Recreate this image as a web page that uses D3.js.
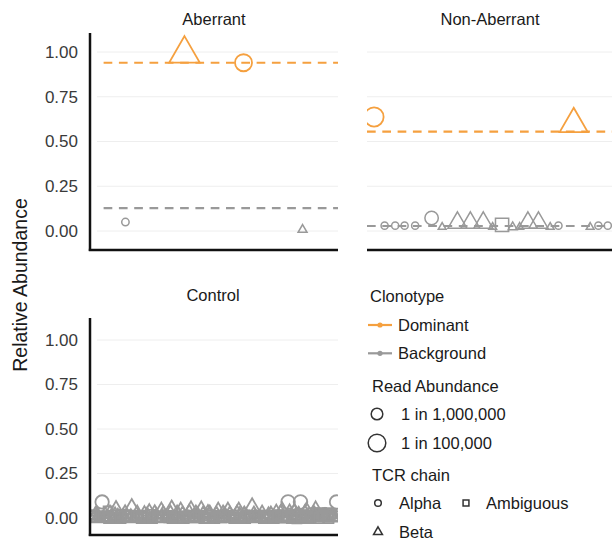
<!DOCTYPE html>
<html><head><meta charset="utf-8">
<script src="https://cdn.jsdelivr.net/npm/d3@7"></script>
<style>
body{margin:0;background:#fff}
svg{display:block}
text{font-family:"Liberation Sans",Arial,Helvetica,sans-serif}
</style>
</head><body>
<svg id="chart" width="612" height="540"></svg>
<script>
// ---------------- data ----------------
const facets = ["Aberrant", "Non-Aberrant", "Control"];
const yTicks = [0, 0.25, 0.5, 0.75, 1];
const dominantMeans = [0.94, 0.555, null];
const backgroundMeans = [0.128, 0.028, 0.02];
const xDomains = [[0.4, 4.6], [0.4, 21.6], [0, 82]];
const chains = ["Alpha", "Beta", "Ambiguous"];
const clonotypes = ["Dominant", "Background"];
const sizeBreaks = [1, 10];               // reads per million
const sizeLabels = ["1 in 1,000,000", "1 in 100,000"];

// [clonotype index, relative abundance, reads per million, chain, clonotype]
const aberrantPoints = [
  [1, 0.05, 0.2, "Alpha", "Background"],
  [2, 0.99, 70, "Beta", "Dominant"],
  [3, 0.94, 8, "Alpha", "Dominant"],
  [4, 0.007, 0.15, "Beta", "Background"]
];
const nonAberrantPoints = [
  [1.0, 0.637, 18, "Alpha", "Dominant"],
  [18.0, 0.598, 35, "Beta", "Dominant"],
  [1.9, 0.03, 0.18, "Alpha", "Background"],
  [2.8, 0.03, 0.18, "Alpha", "Background"],
  [3.6, 0.03, 0.18, "Alpha", "Background"],
  [4.5, 0.03, 0.18, "Alpha", "Background"],
  [5.9, 0.073, 2.0, "Alpha", "Background"],
  [6.8, 0.022, 0.11, "Beta", "Background"],
  [8.1, 0.046, 2.6, "Beta", "Background"],
  [9.2, 0.046, 2.6, "Beta", "Background"],
  [10.3, 0.046, 2.6, "Beta", "Background"],
  [11.1, 0.022, 0.11, "Beta", "Background"],
  [11.9, 0.034, 3.5, "Ambiguous", "Background"],
  [12.8, 0.022, 0.15, "Beta", "Background"],
  [13.4, 0.022, 0.11, "Beta", "Background"],
  [14.1, 0.046, 2.6, "Beta", "Background"],
  [15.0, 0.046, 2.6, "Beta", "Background"],
  [16.0, 0.022, 0.11, "Beta", "Background"],
  [16.7, 0.03, 0.18, "Alpha", "Background"],
  [19.4, 0.022, 0.11, "Beta", "Background"],
  [20.1, 0.03, 0.18, "Alpha", "Background"],
  [20.9, 0.03, 0.18, "Alpha", "Background"]
];
// [clonotype index, relative abundance, reads per million, chain]  (all Background)
const controlPoints = [
  [0.6, 0.02, 0.5, "Ambiguous"], [1.2, 0.0, 0.4, "Ambiguous"], [2.2, 0.03, 0.3, "Beta"],
  [3.0, 0.01, 0.5, "Ambiguous"], [4.0, 0.09, 2.0, "Alpha"], [5.0, 0.02, 0.4, "Beta"],
  [6.0, 0.04, 0.6, "Ambiguous"], [7.0, 0.01, 0.3, "Alpha"], [8.0, 0.0, 0.5, "Ambiguous"],
  [8.6, 0.045, 1.0, "Beta"], [9.8, 0.02, 0.4, "Ambiguous"], [11.0, 0.01, 0.5, "Beta"],
  [12.2, 0.0, 0.4, "Ambiguous"], [13.0, 0.02, 0.3, "Alpha"], [13.8, 0.052, 1.4, "Beta"],
  [15.0, 0.01, 0.4, "Ambiguous"], [16.2, 0.0, 0.5, "Beta"], [17.4, 0.02, 0.3, "Ambiguous"],
  [18.6, 0.01, 0.4, "Alpha"], [19.6, 0.035, 0.5, "Beta"], [20.8, 0.0, 0.4, "Ambiguous"],
  [22.0, 0.015, 0.4, "Beta"], [23.6, 0.04, 0.7, "Beta"], [24.8, 0.01, 0.4, "Ambiguous"],
  [26.0, 0.0, 0.5, "Ambiguous"], [27.0, 0.048, 1.0, "Beta"], [28.2, 0.015, 0.4, "Alpha"],
  [29.0, 0.0, 0.5, "Ambiguous"], [30.0, 0.04, 0.7, "Beta"], [31.2, 0.01, 0.4, "Ambiguous"],
  [32.2, 0.02, 0.3, "Alpha"], [33.4, 0.045, 0.8, "Beta"], [34.6, 0.0, 0.5, "Ambiguous"],
  [35.6, 0.02, 0.4, "Beta"], [36.8, 0.045, 0.8, "Beta"], [38.0, 0.01, 0.4, "Ambiguous"],
  [39.0, 0.03, 0.5, "Beta"], [40.2, 0.0, 0.4, "Ambiguous"], [41.4, 0.015, 0.3, "Alpha"],
  [42.4, 0.04, 0.7, "Beta"], [43.6, 0.0, 0.5, "Ambiguous"], [44.6, 0.02, 0.4, "Beta"],
  [45.6, 0.04, 0.7, "Beta"], [46.8, 0.01, 0.4, "Ambiguous"], [48.0, 0.02, 0.3, "Alpha"],
  [49.2, 0.04, 0.7, "Beta"], [50.4, 0.0, 0.4, "Ambiguous"], [51.6, 0.015, 0.4, "Beta"],
  [52.6, 0.02, 0.3, "Alpha"], [53.6, 0.055, 1.6, "Beta"], [55.0, 0.01, 0.4, "Ambiguous"],
  [56.4, 0.0, 0.4, "Beta"], [57.8, 0.02, 0.3, "Ambiguous"], [59.2, 0.01, 0.4, "Alpha"],
  [60.4, 0.0, 0.4, "Beta"], [61.6, 0.03, 0.6, "Beta"], [62.6, 0.02, 0.5, "Ambiguous"],
  [63.6, 0.04, 0.7, "Beta"], [64.6, 0.0, 0.6, "Ambiguous"], [65.5, 0.09, 2.2, "Alpha"],
  [66.6, 0.02, 0.5, "Ambiguous"], [67.6, 0.035, 0.6, "Beta"], [68.4, -0.005, 0.6, "Ambiguous"],
  [69.6, 0.09, 2.2, "Alpha"], [70.6, 0.02, 0.5, "Ambiguous"], [71.6, 0.04, 0.7, "Beta"],
  [72.6, 0.01, 0.5, "Ambiguous"], [73.6, 0.03, 0.6, "Ambiguous"], [74.6, 0.045, 0.8, "Beta"],
  [75.6, 0.02, 0.6, "Ambiguous"], [76.6, 0.03, 0.6, "Ambiguous"], [77.6, 0.01, 0.5, "Beta"],
  [78.6, 0.03, 0.6, "Ambiguous"], [79.6, 0.02, 0.5, "Ambiguous"], [80.4, 0.0, 0.4, "Beta"],
  [81.5, 0.09, 2.0, "Alpha"],
  [1.8, 0.015, 0.7, "Beta"], [3.6, 0.005, 0.6, "Ambiguous"], [5.6, 0.01, 0.7, "Ambiguous"],
  [6.6, 0.025, 0.6, "Beta"], [7.6, 0.015, 0.7, "Ambiguous"], [9.2, 0.005, 0.7, "Beta"],
  [10.4, 0.02, 0.6, "Ambiguous"], [11.6, 0.025, 0.7, "Beta"], [12.6, 0.01, 0.6, "Ambiguous"],
  [14.4, 0.015, 0.7, "Ambiguous"], [15.6, 0.025, 0.6, "Beta"], [16.8, 0.01, 0.7, "Ambiguous"],
  [18.0, 0.02, 0.7, "Beta"], [19.0, 0.005, 0.6, "Ambiguous"], [20.2, 0.02, 0.6, "Ambiguous"],
  [21.4, 0.025, 0.7, "Beta"], [22.8, 0.005, 0.6, "Ambiguous"], [24.2, 0.02, 0.7, "Beta"],
  [25.4, 0.015, 0.6, "Ambiguous"], [26.6, 0.025, 0.6, "Beta"], [27.6, 0.005, 0.7, "Ambiguous"],
  [28.8, 0.025, 0.6, "Beta"], [29.6, 0.01, 0.7, "Ambiguous"], [30.6, 0.02, 0.6, "Beta"],
  [31.8, 0.005, 0.7, "Ambiguous"], [32.8, 0.03, 0.6, "Beta"], [34.0, 0.015, 0.7, "Ambiguous"],
  [35.0, 0.025, 0.6, "Beta"], [36.2, 0.005, 0.7, "Ambiguous"], [37.4, 0.02, 0.6, "Beta"],
  [38.6, 0.015, 0.7, "Ambiguous"], [39.6, 0.025, 0.6, "Beta"], [40.8, 0.005, 0.7, "Ambiguous"],
  [41.8, 0.02, 0.6, "Beta"], [43.0, 0.015, 0.7, "Ambiguous"], [44.0, 0.025, 0.6, "Beta"],
  [45.0, 0.005, 0.7, "Ambiguous"], [46.2, 0.02, 0.6, "Beta"], [47.4, 0.015, 0.7, "Ambiguous"],
  [48.6, 0.025, 0.6, "Beta"], [49.8, 0.005, 0.7, "Ambiguous"], [51.0, 0.02, 0.6, "Beta"],
  [52.2, 0.01, 0.7, "Ambiguous"], [54.2, 0.02, 0.6, "Beta"], [55.6, 0.015, 0.7, "Ambiguous"],
  [56.9, 0.025, 0.6, "Beta"], [58.4, 0.005, 0.7, "Ambiguous"], [59.8, 0.02, 0.6, "Beta"],
  [61.0, 0.015, 0.7, "Ambiguous"], [62.0, 0.005, 0.8, "Ambiguous"], [63.0, 0.025, 0.7, "Beta"],
  [64.0, 0.015, 0.8, "Ambiguous"], [65.0, 0.01, 0.8, "Ambiguous"], [66.0, 0.03, 0.7, "Beta"],
  [67.0, 0.005, 0.8, "Ambiguous"], [68.0, 0.02, 0.8, "Ambiguous"], [69.0, 0.015, 0.8, "Beta"],
  [70.0, 0.005, 0.8, "Ambiguous"], [71.0, 0.025, 0.7, "Beta"], [72.0, 0.015, 0.8, "Ambiguous"],
  [73.0, 0.005, 0.8, "Ambiguous"], [74.0, 0.02, 0.8, "Beta"], [75.0, 0.01, 0.8, "Ambiguous"],
  [76.0, 0.025, 0.8, "Ambiguous"], [77.0, 0.015, 0.8, "Ambiguous"], [78.0, 0.005, 0.8, "Beta"],
  [79.0, 0.015, 0.8, "Ambiguous"], [80.0, 0.025, 0.7, "Ambiguous"], [81.0, 0.01, 0.8, "Ambiguous"],
  [0.9, 0.01, 0.9, "Ambiguous"], [2.6, 0.0, 0.9, "Beta"], [4.6, 0.01, 0.9, "Ambiguous"],
  [6.3, 0.0, 0.9, "Ambiguous"], [8.3, 0.01, 0.9, "Beta"], [10.1, 0.0, 0.9, "Ambiguous"],
  [11.9, 0.01, 0.9, "Ambiguous"], [13.5, 0.0, 0.9, "Beta"], [15.3, 0.01, 0.9, "Ambiguous"],
  [17.1, 0.0, 0.9, "Ambiguous"], [18.9, 0.01, 0.9, "Beta"], [20.5, 0.0, 0.9, "Ambiguous"],
  [22.4, 0.01, 0.9, "Ambiguous"], [24.0, 0.0, 0.9, "Beta"], [25.8, 0.01, 0.9, "Ambiguous"],
  [27.3, 0.0, 0.9, "Ambiguous"], [29.3, 0.01, 0.9, "Beta"], [31.0, 0.0, 0.9, "Ambiguous"],
  [32.6, 0.01, 0.9, "Ambiguous"], [34.3, 0.0, 0.9, "Beta"], [36.0, 0.01, 0.9, "Ambiguous"],
  [37.8, 0.0, 0.9, "Ambiguous"], [39.4, 0.01, 0.9, "Beta"], [41.1, 0.0, 0.9, "Ambiguous"],
  [42.8, 0.01, 0.9, "Ambiguous"], [44.3, 0.0, 0.9, "Beta"], [46.0, 0.01, 0.9, "Ambiguous"],
  [47.7, 0.0, 0.9, "Ambiguous"], [49.5, 0.01, 0.9, "Beta"], [51.3, 0.0, 0.9, "Ambiguous"],
  [53.0, 0.01, 0.9, "Ambiguous"], [54.6, 0.0, 0.9, "Beta"], [56.2, 0.01, 0.9, "Ambiguous"],
  [57.5, 0.0, 0.9, "Ambiguous"], [59.0, 0.01, 0.9, "Beta"], [60.8, 0.0, 0.9, "Ambiguous"],
  [62.3, 0.01, 0.9, "Ambiguous"], [63.9, 0.0, 0.9, "Beta"], [65.3, 0.01, 0.9, "Ambiguous"],
  [66.8, 0.0, 1.0, "Ambiguous"], [68.2, 0.01, 1.0, "Beta"], [69.8, 0.0, 1.0, "Ambiguous"],
  [71.3, 0.01, 1.0, "Ambiguous"], [72.8, 0.0, 1.0, "Ambiguous"], [74.3, 0.01, 1.0, "Beta"],
  [75.8, 0.0, 1.0, "Ambiguous"], [77.3, 0.01, 1.0, "Ambiguous"], [78.8, 0.0, 1.0, "Ambiguous"],
  [80.2, 0.01, 1.0, "Beta"]
];
const pointSets = [aberrantPoints, nonAberrantPoints, controlPoints.map(d => [...d, "Background"])];

// ---------------- layout & style ----------------
const colors = { Dominant: "#F5A03F", Background: "#999999" };
const font = "Liberation Sans, Arial, sans-serif";
const layout = [
  { left: 90, right: 338, top: 33, bottom: 250, y0: 231, y1: 52, gridStart: 97, leftAxis: true, tx: 214, ty: 25 },
  { left: 367, right: 616, top: 33, bottom: 250, y0: 231, y1: 52, gridStart: 367, leftAxis: false, tx: 490, ty: 25 },
  { left: 90, right: 338, top: 318, bottom: 535, y0: 518, y1: 340, gridStart: 97, leftAxis: true, tx: 213, ty: 301 }
];
const shapeOf = { Alpha: d3.symbolCircle, Beta: d3.symbolTriangle, Ambiguous: d3.symbolSquare };
const rScale = d3.scaleLog().domain(sizeBreaks).range([5.8, 8.8]);
const symArea = r => Math.PI * r * r;

const svg = d3.select("#chart");
const defs = svg.append("defs");

facets.forEach((name, i) => {
  const L = layout[i];
  const x = d3.scaleLinear().domain(xDomains[i]).range([L.left, L.right]);
  const y = d3.scaleLinear().domain([0, 1]).range([L.y0, L.y1]);
  const g = svg.append("g");

  defs.append("clipPath").attr("id", "clip" + i)
    .append("rect").attr("x", L.left).attr("y", L.top)
    .attr("width", L.right - L.left).attr("height", L.bottom - L.top);

  // grid
  g.selectAll(".grid").data(yTicks).join("line")
    .attr("x1", L.gridStart).attr("x2", L.right)
    .attr("y1", d => y(d)).attr("y2", d => y(d))
    .attr("stroke", "#eeeeee").attr("stroke-width", 1);

  // title
  g.append("text").attr("x", L.tx).attr("y", L.ty).attr("text-anchor", "middle")
    .attr("font-size", 16.5).attr("fill", "#1a1a1a").text(name);

  // y tick labels
  if (L.leftAxis) {
    const ax = d3.axisLeft(y).tickValues(yTicks).tickFormat(d3.format(".2f"))
      .tickSize(0).tickPadding(12);
    const ag = g.append("g").attr("transform", `translate(${L.left},0)`).call(ax);
    ag.select(".domain").remove();
    ag.selectAll("text").attr("font-size", 17).attr("fill", "#3a3a3a").attr("font-family", font);
  }

  const pg = g.append("g").attr("clip-path", `url(#clip${i})`);

  // mean lines
  [["Background", backgroundMeans[i]], ["Dominant", dominantMeans[i]]].forEach(([k, v]) => {
    if (v === null) return;
    pg.append("line").attr("x1", L.gridStart).attr("x2", L.right)
      .attr("y1", y(v)).attr("y2", y(v))
      .attr("stroke", colors[k]).attr("stroke-width", 2.2)
      .attr("stroke-dasharray", "8.7,6.6")
      .attr("stroke-dashoffset", i === 1 ? 0 : 8.7);
  });

  // points
  const pts = pointSets[i].map(d => ({ x: d[0], v: d[1], f: d[2], chain: d[3], clone: d[4] }));
  pts.sort((a, b) => (a.clone === "Dominant") - (b.clone === "Dominant"));
  pg.selectAll("path.pt").data(pts).join("path")
    .attr("class", "pt")
    .attr("transform", d => `translate(${x(d.x)},${y(d.v)})`)
    .attr("d", d => d3.symbol(shapeOf[d.chain], symArea(rScale(d.f)))())
    .attr("fill", "none")
    .attr("stroke", d => colors[d.clone])
    .attr("stroke-width", d => d.clone === "Dominant" ? 1.8 : (i === 2 ? 1.8 : 1.5));

  // axis lines
  if (L.leftAxis) {
    g.append("line").attr("x1", L.left).attr("x2", L.left).attr("y1", L.top).attr("y2", L.bottom + 1)
      .attr("stroke", "#111").attr("stroke-width", 2.5);
  }
  g.append("line").attr("x1", L.left - (L.leftAxis ? 1.2 : 0)).attr("x2", L.right)
    .attr("y1", L.bottom).attr("y2", L.bottom)
    .attr("stroke", "#111").attr("stroke-width", 2.5);
});

// y axis title
svg.append("text").attr("transform", "translate(20,285) rotate(-90)")
  .attr("text-anchor", "middle").attr("dominant-baseline", "central")
  .attr("font-size", 19.5).attr("fill", "#1a1a1a").text("Relative Abundance");

// ---------------- legend ----------------
const lg = svg.append("g");
const fs = 16.5;
lg.append("text").attr("x", 370).attr("y", 302).attr("font-size", fs).attr("fill", "#1a1a1a").text("Clonotype");
clonotypes.forEach((c, j) => {
  const cy = 325 + j * 28.3;
  lg.append("line").attr("x1", 368).attr("x2", 392).attr("y1", cy).attr("y2", cy)
    .attr("stroke", colors[c]).attr("stroke-width", 2.2);
  lg.append("circle").attr("cx", 380).attr("cy", cy).attr("r", 2.6).attr("fill", colors[c]);
  lg.append("text").attr("x", 398).attr("y", cy + 5.5).attr("font-size", fs).attr("fill", "#1a1a1a").text(c);
});
lg.append("text").attr("x", 372).attr("y", 391.5).attr("font-size", fs).attr("fill", "#1a1a1a").text("Read Abundance");
sizeBreaks.forEach((b, j) => {
  const cy = 414 + j * 29;
  lg.append("path").attr("transform", `translate(377,${cy})`)
    .attr("d", d3.symbol(d3.symbolCircle, symArea(rScale(b)))())
    .attr("fill", "none").attr("stroke", "#333").attr("stroke-width", 1.5);
  lg.append("text").attr("x", 401).attr("y", cy + 6).attr("font-size", fs).attr("fill", "#1a1a1a").text(sizeLabels[j]);
});
lg.append("text").attr("x", 372).attr("y", 480.5).attr("font-size", fs).attr("fill", "#1a1a1a").text("TCR chain");
const chainPos = { Alpha: [378, 503, 399], Ambiguous: [466, 503, 486], Beta: [378, 532, 399] };
chains.forEach(c => {
  const [kx, ky, tx] = chainPos[c];
  lg.append("path").attr("transform", `translate(${kx},${ky})`)
    .attr("d", d3.symbol(shapeOf[c], symArea(3.3))())
    .attr("fill", "none").attr("stroke", "#333").attr("stroke-width", 1.5);
  lg.append("text").attr("x", tx).attr("y", ky + 6).attr("font-size", fs).attr("fill", "#1a1a1a").text(c);
});
</script>
</body></html>
